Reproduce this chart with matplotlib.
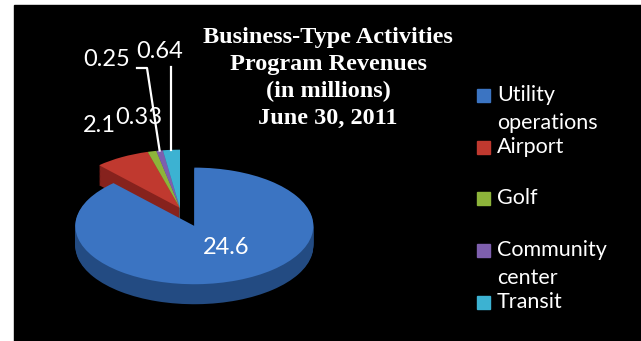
import numpy as np
import matplotlib
matplotlib.use("Agg")
import matplotlib.pyplot as plt
from matplotlib.patches import Rectangle
from matplotlib.transforms import Affine2D

# revenue by program (millions)
categories = ["Utility\noperations", "Airport", "Golf", "Community\ncenter", "Transit"]
revenues = [24.6, 2.1, 0.33, 0.25, 0.64]
value_labels = ["24.6", "2.1", "0.33", "0.25", "0.64"]

top_colors = ["#3b74c2", "#c0392f", "#8db43a", "#7e5fae", "#3cb2d2"]
side_colors = ["#234b82", "#86221d", "#5e7a22", "#553d7a", "#227a93"]

W, H = 641, 341
fig = plt.figure(figsize=(W / 100, H / 100), dpi=100, facecolor="white")
ax = fig.add_axes([0, 0, 1, 1])
ax.set_axis_off()

# black plot area with a thin white margin on the left and top
ax.add_patch(Rectangle((14, 0), W - 14, H - 5, color="black", zorder=0))

# pie geometry (pixel coords, y up)
cx, cy = 180, H - 208
radius = 119
tilt = 0.49
depth = 20
# pie() takes the explode offset in data units
explode = [0.33 * radius, 0, 0, 0, 0]


def squash(dz):
    return (Affine2D().translate(-cx, -cy).scale(1, tilt)
            .translate(cx, cy - dz) + ax.transData)


def draw_layer(colors, dz, z_small, z_big):
    wedges, _ = ax.pie(revenues, radius=radius, center=(cx, cy), startangle=90,
                       counterclock=False, explode=explode, colors=colors,
                       wedgeprops=dict(linewidth=0), frame=True)
    for i, w in enumerate(wedges):
        w.set_transform(squash(dz))
        w.set_zorder(z_big if i == 0 else z_small)


# side walls, bottom layer first, then the top face
n_layers = 24
for k in range(n_layers, 0, -1):
    dz = depth * k / n_layers
    draw_layer(side_colors, dz, 1 + (n_layers - k) * 0.001, 3 + (n_layers - k) * 0.001)
draw_layer(top_colors, 0, 2, 4)

ax.set_xlim(0, W)
ax.set_ylim(0, H)
ax.set_aspect("auto")

# data labels
label_font = dict(family=["Lato", "DejaVu Sans"], color="white", fontsize=17, zorder=6)
label_xy = [(226, 247), (99, 125), (139, 118), (107, 60), (160, 52)]
for txt, (x, y) in zip(value_labels, label_xy):
    ax.text(x, H - y, txt, ha="center", va="center", **label_font)

# leader lines for the two thin slices, ending on the slice rims
total = sum(revenues)
ends = np.cumsum(revenues) / total * 360
mids = 90 - (ends - np.array(revenues) / total * 180)
rim = [(cx + radius * np.cos(np.radians(a)), cy + radius * tilt * np.sin(np.radians(a)))
       for a in mids]
ax.plot([137, 147, rim[3][0]], [H - 68, H - 68, rim[3][1]], color="white", lw=1.6, zorder=5)
ax.plot([rim[4][0], rim[4][0]], [H - 67, rim[4][1]], color="white", lw=1.6, zorder=5)

# title
ax.text(328, H - 78, "Business-Type Activities\nProgram Revenues\n(in millions)\nJune 30, 2011",
        ha="center", va="center", family="Liberation Serif", weight="bold",
        fontsize=17.5, color="white", linespacing=1.37, zorder=6)

# legend
leg_y = [95, 147, 198, 250, 302]
for name, col, y in zip(categories, top_colors, leg_y):
    ax.add_patch(Rectangle((477, H - y - 6.5), 13, 13, color=col, zorder=6))
    ax.text(497, H - y + 10, name, ha="left", va="top", color="white",
            family=["Lato", "DejaVu Sans"], fontsize=15.5, linespacing=1.5, zorder=6)

fig.savefig("out.png", dpi=100, facecolor="white")
